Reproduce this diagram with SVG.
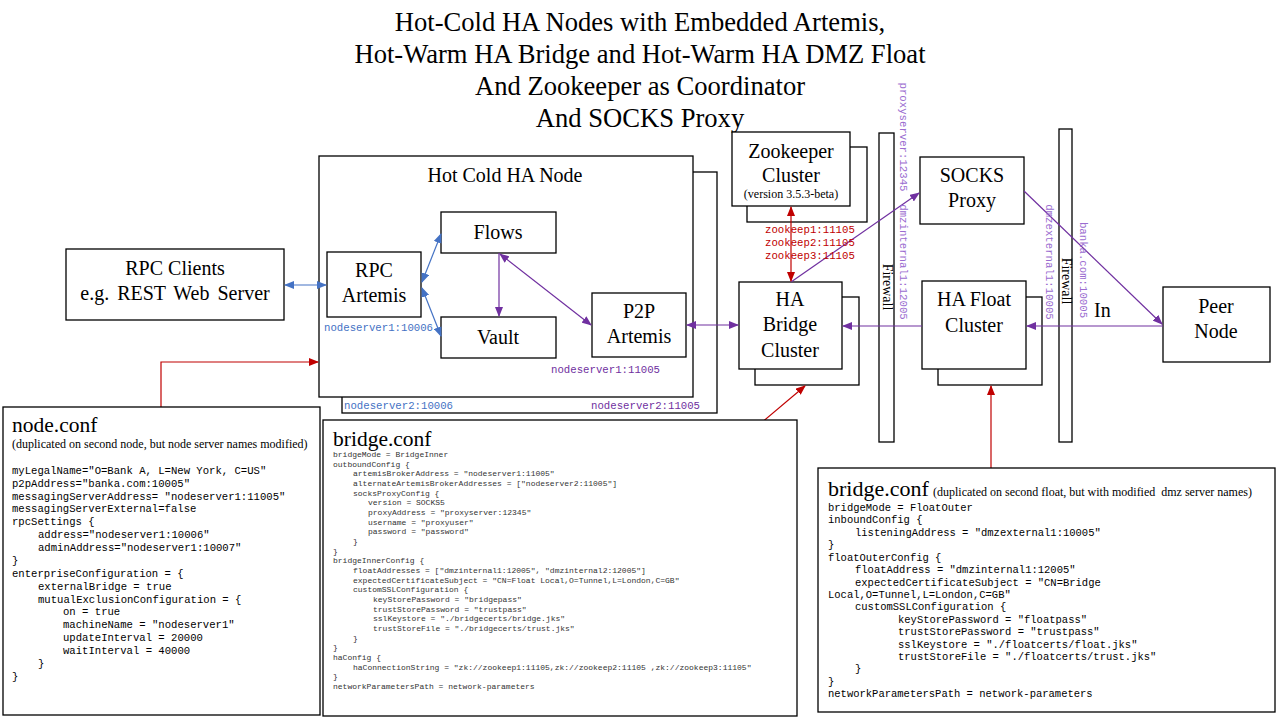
<svg xmlns="http://www.w3.org/2000/svg" width="1280" height="720" viewBox="0 0 1280 720">
<defs>
<marker id="ab" viewBox="0 0 10 8" refX="9" refY="4" markerWidth="10" markerHeight="8" markerUnits="userSpaceOnUse" orient="auto-start-reverse"><path d="M0,0 L10,4 L0,8 z" fill="#4472C4"/></marker>
<marker id="ap" viewBox="0 0 10 8" refX="9" refY="4" markerWidth="10" markerHeight="8" markerUnits="userSpaceOnUse" orient="auto-start-reverse"><path d="M0,0 L10,4 L0,8 z" fill="#7030A0"/></marker>
<marker id="ar" viewBox="0 0 10 8" refX="9" refY="4" markerWidth="10" markerHeight="8" markerUnits="userSpaceOnUse" orient="auto-start-reverse"><path d="M0,0 L10,4 L0,8 z" fill="#C00000"/></marker>
</defs>
<style>
.box{fill:#fff;stroke:#000;stroke-width:1.3}
.t{font-family:"Liberation Serif","Times New Roman",serif;fill:#000}
.n{font-size:20px;text-anchor:middle}
.m{font-family:"Liberation Mono","Courier New",monospace}
.lb{font-size:10.7px;fill:#4472C4}
.lp{font-size:10.7px;fill:#7030A0}
.lv{font-size:10.7px;fill:#9A6CD0}
.lr{font-size:10.7px;fill:#C00000}
.c1{font-size:10.6px;fill:#000}
.c2{font-size:8px;fill:#333}
.c3{font-size:10.5px;fill:#000}
.cb{fill:none;stroke:#4472C4;stroke-width:1.2}
.cp{fill:none;stroke:#7030A0;stroke-width:1.2}
.cr{fill:none;stroke:#C00000;stroke-width:1.2}
</style>
<rect width="1280" height="720" fill="#fff"/>

<g id="title" class="t" font-size="26.6" text-anchor="middle">
<text x="640" y="31">Hot-Cold HA Nodes with Embedded Artemis,</text>
<text x="640" y="63">Hot-Warm HA Bridge and Hot-Warm HA DMZ Float</text>
<text x="640" y="95">And Zookeeper as Coordinator</text>
<text x="640" y="127">And SOCKS Proxy</text>
</g>

<g id="firewall1">
<rect class="box" x="879" y="133" width="15" height="309"/>
<text class="t" font-size="14" text-anchor="middle" dominant-baseline="central" transform="translate(887,287) rotate(90)">Firewall</text>
</g>
<g id="firewall2">
<rect class="box" x="1059" y="129" width="13" height="313"/>
<text class="t" font-size="14" text-anchor="middle" dominant-baseline="central" transform="translate(1066,281) rotate(90)">Firewall</text>
</g>

<g id="rpc-clients">
<rect class="box" x="66" y="249" width="218" height="71"/>
<text class="t n" x="175" y="275">RPC Clients</text>
<text class="t n" x="175" y="300" word-spacing="3">e.g. REST Web Server</text>
</g>

<g id="hot-cold-node">
<rect class="box" x="342" y="172" width="375" height="241"/>
<rect class="box" x="319" y="156" width="374" height="241"/>
<text class="t n" x="505" y="182">Hot Cold HA Node</text>
<text class="m lb" x="324" y="331">nodeserver1:10006</text>
<text class="m lp" x="551" y="373">nodeserver1:11005</text>
<text class="m lb" x="344" y="409">nodeserver2:10006</text>
<text class="m lp" x="591" y="409">nodeserver2:11005</text>
</g>
<g id="rpc-artemis">
<rect class="box" x="327" y="252" width="94" height="65"/>
<text class="t n" x="374" y="277">RPC</text>
<text class="t n" x="374" y="302">Artemis</text>
</g>
<g id="flows">
<rect class="box" x="441" y="212" width="115" height="41"/>
<text class="t n" x="498" y="239">Flows</text>
</g>
<g id="vault">
<rect class="box" x="441" y="317" width="115" height="41"/>
<text class="t n" x="498" y="344">Vault</text>
</g>
<g id="p2p-artemis">
<rect class="box" x="592" y="293" width="94" height="64"/>
<text class="t n" x="639" y="318">P2P</text>
<text class="t n" x="639" y="343">Artemis</text>
</g>

<g id="zookeeper">
<rect class="box" x="747" y="147" width="120" height="75"/>
<rect class="box" x="732" y="132" width="118" height="74"/>
<text class="t n" x="791" y="158">Zookeeper</text>
<text class="t n" x="791" y="182">Cluster</text>
<text class="t" font-size="12" text-anchor="middle" x="791" y="198">(version 3.5.3-beta)</text>
</g>

<g id="ha-bridge">
<rect class="box" x="755" y="297" width="104" height="88"/>
<rect class="box" x="739" y="282" width="103" height="87"/>
<text class="t n" x="790" y="306">HA</text>
<text class="t n" x="790" y="331">Bridge</text>
<text class="t n" x="790" y="357">Cluster</text>
</g>

<g id="socks-proxy">
<rect class="box" x="920" y="157" width="104" height="67"/>
<text class="t n" x="972" y="182">SOCKS</text>
<text class="t n" x="972" y="207">Proxy</text>
</g>

<g id="ha-float">
<rect class="box" x="938" y="297" width="104" height="88"/>
<rect class="box" x="922" y="281" width="104" height="88"/>
<text class="t n" x="974" y="306">HA Float</text>
<text class="t n" x="974" y="332">Cluster</text>
</g>

<g id="peer-node">
<rect class="box" x="1163" y="287" width="107" height="75"/>
<text class="t n" x="1216" y="313">Peer</text>
<text class="t n" x="1216" y="338">Node</text>
</g>

<g id="connectors">
<line class="cb" x1="285" y1="285" x2="326" y2="285" marker-start="url(#ab)" marker-end="url(#ab)"/>
<line class="cb" x1="422" y1="282" x2="441" y2="234" marker-start="url(#ab)" marker-end="url(#ab)"/>
<line class="cb" x1="422" y1="288" x2="441" y2="336" marker-start="url(#ab)" marker-end="url(#ab)"/>
<line class="cp" x1="499" y1="253" x2="499" y2="316" marker-end="url(#ap)"/>
<line class="cp" x1="500" y1="254" x2="591" y2="325" marker-start="url(#ap)" marker-end="url(#ap)"/>
<line class="cp" x1="687" y1="325" x2="738" y2="325" marker-start="url(#ap)" marker-end="url(#ap)"/>
<line class="cp" x1="922" y1="326" x2="843" y2="326" marker-end="url(#ap)"/>
<line class="cp" x1="1163" y1="326" x2="1027" y2="326" marker-end="url(#ap)"/>
<line class="cp" x1="791" y1="282" x2="919" y2="193" marker-end="url(#ap)"/>
<line class="cp" x1="1024" y1="191" x2="1162" y2="324" marker-end="url(#ap)"/>
<line class="cr" x1="791" y1="207" x2="791" y2="281" marker-start="url(#ar)" marker-end="url(#ar)"/>
<polyline class="cr" points="161,407 161,362 318,362" marker-end="url(#ar)"/>
<line class="cr" x1="754" y1="429" x2="805" y2="386" marker-end="url(#ar)"/>
<line class="cr" x1="991" y1="468" x2="991" y2="386" marker-end="url(#ar)"/>
<text class="t" font-size="20" x="1094" y="317">In</text>
<text class="m lr" x="765" y="233">zookeep1:11105</text>
<text class="m lr" x="765" y="246">zookeep2:11105</text>
<text class="m lr" x="765" y="259">zookeep3:11105</text>
<text class="m lv" text-anchor="middle" dominant-baseline="central" transform="translate(903,137) rotate(90)">proxyserver:12345</text>
<text class="m lv" text-anchor="middle" dominant-baseline="central" transform="translate(903,262) rotate(90)">dmzinternal1:12005</text>
<text class="m lv" text-anchor="middle" dominant-baseline="central" transform="translate(1049,262) rotate(90)">dmzexternal1:10005</text>
<text class="m lv" text-anchor="middle" dominant-baseline="central" transform="translate(1083,270) rotate(90)">banka.com:10005</text>
</g>

<g id="node-conf">
<rect class="box" x="3" y="407" width="317" height="308"/>
<text class="t" font-size="21.5" x="12" y="432">node.conf</text>
<text class="t" font-size="12" x="12" y="448">(duplicated on second node, but node server names modified)</text>
<g class="m c1">
<text x="12" y="474">myLegalName="O=Bank A, L=New York, C=US"</text>
<text x="12" y="487">p2pAddress="banka.com:10005"</text>
<text x="12" y="500">messagingServerAddress= "nodeserver1:11005"</text>
<text x="12" y="512">messagingServerExternal=false</text>
<text x="12" y="525">rpcSettings {</text>
<text x="38" y="538">address="nodeserver1:10006"</text>
<text x="38" y="551">adminAddress="nodeserver1:10007"</text>
<text x="12" y="564">}</text>
<text x="12" y="577">enterpriseConfiguration = {</text>
<text x="38" y="590">externalBridge = true</text>
<text x="38" y="603">mutualExclusionConfiguration = {</text>
<text x="63" y="615">on = true</text>
<text x="63" y="628">machineName = "nodeserver1"</text>
<text x="63" y="641">updateInterval = 20000</text>
<text x="63" y="654">waitInterval = 40000</text>
<text x="38" y="667">}</text>
<text x="12" y="680">}</text>
</g>
</g>

<g id="bridge-conf-inner">
<rect class="box" x="323" y="420" width="474" height="296"/>
<text class="t" font-size="21.5" x="333" y="446">bridge.conf</text>
<g class="m c2">
<text x="333" y="457">bridgeMode = BridgeInner</text>
<text x="333" y="467">outboundConfig {</text>
<text x="353" y="476">artemisBrokerAddress = "nodeserver1:11005"</text>
<text x="353" y="486">alternateArtemisBrokerAddresses = ["nodeserver2:11005"]</text>
<text x="353" y="496">socksProxyConfig {</text>
<text x="368" y="505">version = SOCKS5</text>
<text x="368" y="515">proxyAddress = "proxyserver:12345"</text>
<text x="368" y="525">username = "proxyuser"</text>
<text x="368" y="534">password = "password"</text>
<text x="353" y="544">}</text>
<text x="333" y="554">}</text>
<text x="333" y="563">bridgeInnerConfig {</text>
<text x="353" y="573">floatAddresses = ["dmzinternal1:12005", "dmzinternal2:12005"]</text>
<text x="353" y="583">expectedCertificateSubject = "CN=Float Local,O=Tunnel,L=London,C=GB"</text>
<text x="353" y="592">customSSLConfiguration {</text>
<text x="373" y="602">keyStorePassword = "bridgepass"</text>
<text x="373" y="612">trustStorePassword = "trustpass"</text>
<text x="373" y="621">sslKeystore = "./bridgecerts/bridge.jks"</text>
<text x="373" y="631">trustStoreFile = "./bridgecerts/trust.jks"</text>
<text x="353" y="641">}</text>
<text x="333" y="650">}</text>
<text x="333" y="660">haConfig {</text>
<text x="353" y="670">haConnectionString = "zk://zookeep1:11105,zk://zookeep2:11105 ,zk://zookeep3:11105"</text>
<text x="333" y="679">}</text>
<text x="333" y="689">networkParametersPath = network-parameters</text>
</g>
</g>

<g id="bridge-conf-float">
<rect class="box" x="818" y="468" width="457" height="244"/>
<text class="t" font-size="22" x="828" y="496">bridge.conf</text>
<text class="t" font-size="12" x="933" y="496" xml:space="preserve">(duplicated on second float, but with modified  dmz server names)</text>
<g class="m c3">
<text x="828" y="511">bridgeMode = FloatOuter</text>
<text x="828" y="523">inboundConfig {</text>
<text x="855" y="536">listeningAddress = "dmzexternal1:10005"</text>
<text x="828" y="548">}</text>
<text x="828" y="561">floatOuterConfig {</text>
<text x="855" y="573">floatAddress = "dmzinternal1:12005"</text>
<text x="855" y="586">expectedCertificateSubject = "CN=Bridge</text>
<text x="828" y="598">Local,O=Tunnel,L=London,C=GB"</text>
<text x="855" y="610">customSSLConfiguration {</text>
<text x="898" y="623">keyStorePassword = "floatpass"</text>
<text x="898" y="635">trustStorePassword = "trustpass"</text>
<text x="898" y="648">sslKeystore = "./floatcerts/float.jks"</text>
<text x="898" y="660">trustStoreFile = "./floatcerts/trust.jks"</text>
<text x="855" y="672">}</text>
<text x="828" y="685">}</text>
<text x="828" y="697">networkParametersPath = network-parameters</text>
</g>
</g>
</svg>
